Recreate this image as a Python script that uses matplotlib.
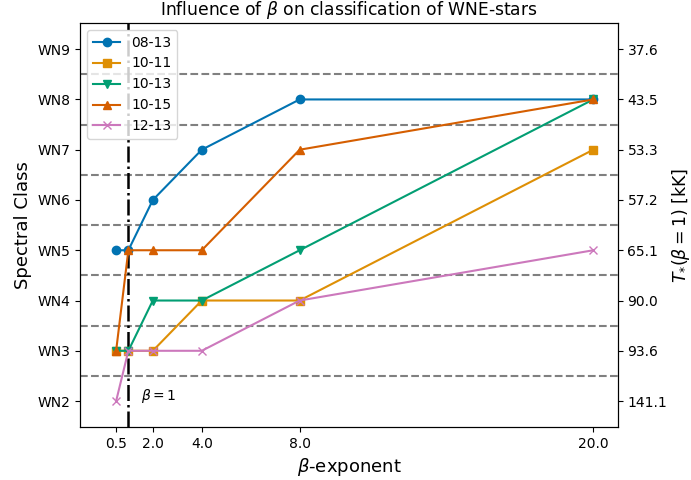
import matplotlib
matplotlib.use('Agg')
import matplotlib.pyplot as plt
import numpy as np

# beta exponents and spectral classes (WN subtype number)
betas = [0.5, 1, 2, 4, 8, 20]
tick_betas = [0.5, 2.0, 4.0, 8.0, 20.0]
stars = ['08-13', '10-11', '10-13', '10-15', '12-13']
cls_0813 = [5, 5, 6, 7, 8, 8]
cls_1011 = [3, 3, 3, 4, 4, 7]
cls_1013 = [3, 3, 4, 4, 5, 8]
cls_1015 = [3, 5, 5, 5, 7, 8]
cls_1213 = [2, 3, 3, 3, 4, 5]
wn_classes = [2, 3, 4, 5, 6, 7, 8, 9]
wn_labels = ['WN2', 'WN3', 'WN4', 'WN5', 'WN6', 'WN7', 'WN8', 'WN9']
temps = ['141.1', '93.6', '90.0', '65.1', '57.2', '53.3', '43.5', '37.6']

colors = ['#0173B2', '#DE8F05', '#029E73', '#D55E00', '#CC78BC']
markers = ['o', 's', 'v', '^', 'x']

fig = plt.figure(figsize=(6.91, 4.8), dpi=100)
ax = fig.add_axes([0.116, 0.11, 0.778, 0.842])

for b in np.arange(2.5, 9.0, 1.0):
    ax.axhline(b, color='gray', ls='--', lw=1.5, zorder=0)
ax.axvline(1, color='k', ls='-.', lw=1.8, zorder=1)

for name, vals, c, m in zip(stars, [cls_0813, cls_1011, cls_1013, cls_1015, cls_1213], colors, markers):
    ax.plot(betas, vals, color=c, marker=m, label=name, lw=1.5, ms=6)

ax.text(1.5, 2.1, r'$\beta=1$', fontsize=10, va='center')

ax.set_xlim(-0.97, 21.0)
ax.set_ylim(1.48, 9.52)
ax.set_xticks(tick_betas)
ax.set_xticklabels(['%.1f' % t for t in tick_betas])
ax.set_yticks(wn_classes)
ax.set_yticklabels(wn_labels)
ax.set_xlabel(r'$\beta$-exponent', fontsize=13)
ax.set_ylabel('Spectral Class', fontsize=13)
ax.set_title(r'Influence of $\beta$ on classification of WNE-stars', fontsize=12.3)
ax.legend(loc='upper left', fontsize=10)

ax2 = ax.twinx()
ax2.set_ylim(ax.get_ylim())
ax2.set_yticks(wn_classes)
ax2.set_yticklabels(temps)
ax2.set_ylabel(r'$T_{*}(\beta=1)$ [kK]', fontsize=12.5, labelpad=2)

fig.savefig('out.png', dpi=100)
